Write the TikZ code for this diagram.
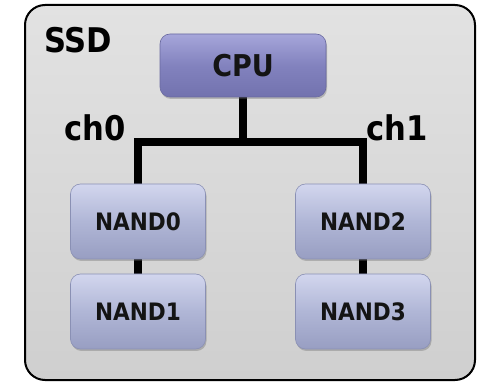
\documentclass[tikz,border=0pt]{standalone}
\usepackage{fontspec}
\usetikzlibrary{shadows,backgrounds}
\newfontfamily\tah{DejaVu Sans Condensed}[BoldFont={DejaVu Sans Condensed Bold}]
\definecolor{bgtop}{HTML}{E2E2E2}
\definecolor{bgbot}{HTML}{CFCFCF}
\definecolor{cputop}{HTML}{A6A6DA}
\definecolor{cpumid}{HTML}{8282BE}
\definecolor{cpubot}{HTML}{7272AE}
\definecolor{cpuedge}{HTML}{6A6AA0}
\definecolor{nandtop}{HTML}{D2D6EE}
\definecolor{nandmid}{HTML}{B0B6D6}
\definecolor{nandbot}{HTML}{989EC2}
\definecolor{nandedge}{HTML}{8A90B4}
\tikzset{
  x=1pt,y=-1pt,
  chip/.style={rectangle, rounded corners=10pt, inner sep=0pt,
    drop shadow={shadow xshift=1pt,shadow yshift=-2pt,opacity=0.35,fill=black!60},
    text=black!92},
  cpubox/.style={chip, minimum width=166pt, minimum height=63pt,
    top color=cputop, bottom color=cpubot, middle color=cpumid, draw=cpuedge, line width=0.6pt,
    font=\tah\bfseries\fontsize{30}{30}\selectfont},
  nandbox/.style={chip, minimum width=135pt, minimum height=75pt,
    top color=nandtop, bottom color=nandbot, middle color=nandmid, draw=nandedge, line width=0.6pt,
    font=\tah\bfseries\fontsize{24}{24}\selectfont},
  bus/.style={line width=8pt, line join=miter, black},
  lbl/.style={font=\tah\bfseries\fontsize{34}{34}\selectfont, inner sep=0pt, text=black},
  frame/.style={rounded corners=20pt, top color=bgtop, bottom color=bgbot, draw=black, line width=2pt},
}
\begin{document}
\begin{tikzpicture}
\useasboundingbox (0,0) rectangle (477,382);
\node[cpubox] (cpu) at (243,65.5) {CPU};
\node[nandbox] (nand0) at (138,221.5) {NAND0};
\node[nandbox] (nand1) at (138,311.5) {NAND1};
\node[nandbox] (nand2) at (363,221.5) {NAND2};
\node[nandbox] (nand3) at (363,311.5) {NAND3};
\node[lbl, anchor=west] (ssd) at (44,40) {SSD};
\node[lbl, anchor=west] (ch0) at (64,128) {ch0};
\node[lbl, anchor=west] (ch1) at (366,128) {ch1};
\coordinate (busc) at (243,142);
\begin{pgfonlayer}{background}
\path[frame] (25,5) rectangle (475,380);
\draw[bus] (cpu.south) -- (busc);
\draw[bus] (nand0.north) |- (busc) -| (nand2.north);
\draw[bus] (nand0.south) -- (nand1.north);
\draw[bus] (nand2.south) -- (nand3.north);
\end{pgfonlayer}
\end{tikzpicture}
\end{document}
